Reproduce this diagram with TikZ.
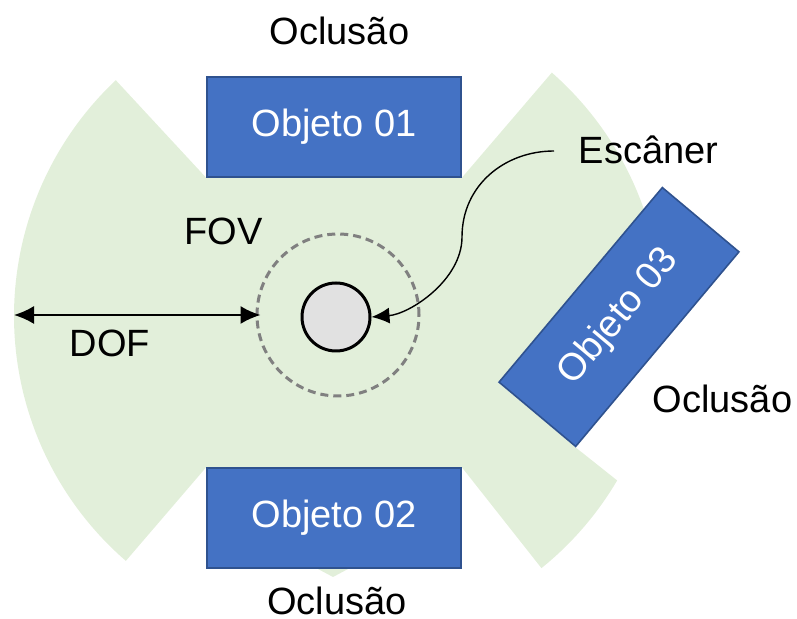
\documentclass[tikz,border=0pt]{standalone}
\usepackage{fontspec}
\setmainfont{Liberation Sans}
\usetikzlibrary{calc,arrows.meta,backgrounds}
\definecolor{fieldgreen}{RGB}{226,239,218}
\definecolor{objfill}{RGB}{68,114,196}
\definecolor{objedge}{RGB}{47,82,143}
\definecolor{ringgray}{RGB}{128,128,128}
\definecolor{scangray}{RGB}{225,225,225}
\begin{document}
\begin{tikzpicture}[x=0.5pt,y=-0.5pt,
  every node/.style={font=\fontsize{19}{23}\selectfont},
  objbox/.style={draw=objedge, line width=0.8pt, fill=objfill, text=white,
    minimum width=127pt, minimum height=50pt, inner sep=0pt},
  label text/.style={anchor=base, inner sep=0pt},
  scanner/.style={circle, draw=black, line width=1.5pt, fill=scangray,
    minimum size=34pt, inner sep=0pt},
  fovring/.style={circle, draw=ringgray, line width=1.5pt, dash pattern=on 4pt off 2.5pt,
    minimum size=81pt, inner sep=0pt},
  dim/.style={line width=0.9pt, {Latex[length=10pt,width=9pt]}-{Latex[length=10pt,width=9pt]}},
  callout/.style={line width=0.7pt, -{Latex[length=9pt,width=8pt]}}]
\useasboundingbox (0,0) rectangle (797,619);
\coordinate (C) at (338,316);

% scanner and its field of view
\node[fovring] (fovc) at (338,315) {};
\node[scanner] (scan) at (336,317) {};

% occluding objects
\node[objbox] (o1) at (334,127) {Objeto 01};
\node[objbox] (o2) at (334,518) {Objeto 02};
\node[objbox, rotate=50] (o3) at (619,317) {Objeto 03};

% visible region: disc of radius DOF minus the shadows of the objects
\begin{scope}[on background layer]
\fill[fieldgreen]
  ($(C)+(226.7:324)$) -- (o1.south west) -- (o1.south east) -- ($(C)+(-48.7:324)$)
  arc[start angle=-48.7, end angle=-19.2, radius=324]
  -- (o3.north west) -- (o3.south west) -- ($(C)+(30.5:324)$)
  arc[start angle=30.5, end angle=51.1, radius=324]
  -- (o2.north east) -- (348,569) -- (333,577) -- (318,569) -- (o2.north west)
  -- ($(C)+(130.9:324)$)
  arc[start angle=130.9, end angle=226.7, radius=324] -- cycle;
\end{scope}

% labels
\node[label text] (occ1) at (339.5,45) {Oclusão};
\node[label text] (occ2) at (337,614) {Oclusão};
\node[label text] (occ3) at (722.5,413) {Oclusão};
\node[label text] (esc) at (648.5,164) {Escâner};
\node[label text] (fov) at (223.5,245) {FOV};
\node[label text] (dof) at (110,357) {DOF};

% depth of field dimension
\coordinate (dofL) at ($(C)+(180:324)$);
\draw[dim, shorten >=-2.5pt] (dofL |- fovc.west) -- (fovc.west);

% callout to the scanner
\coordinate (escfoot) at (554,151);
\draw[callout] (escfoot) .. controls (505,151) and (462,185) .. (462,237)
  .. controls (462,280) and (410,314) .. (scan.east);
\end{tikzpicture}
\end{document}
